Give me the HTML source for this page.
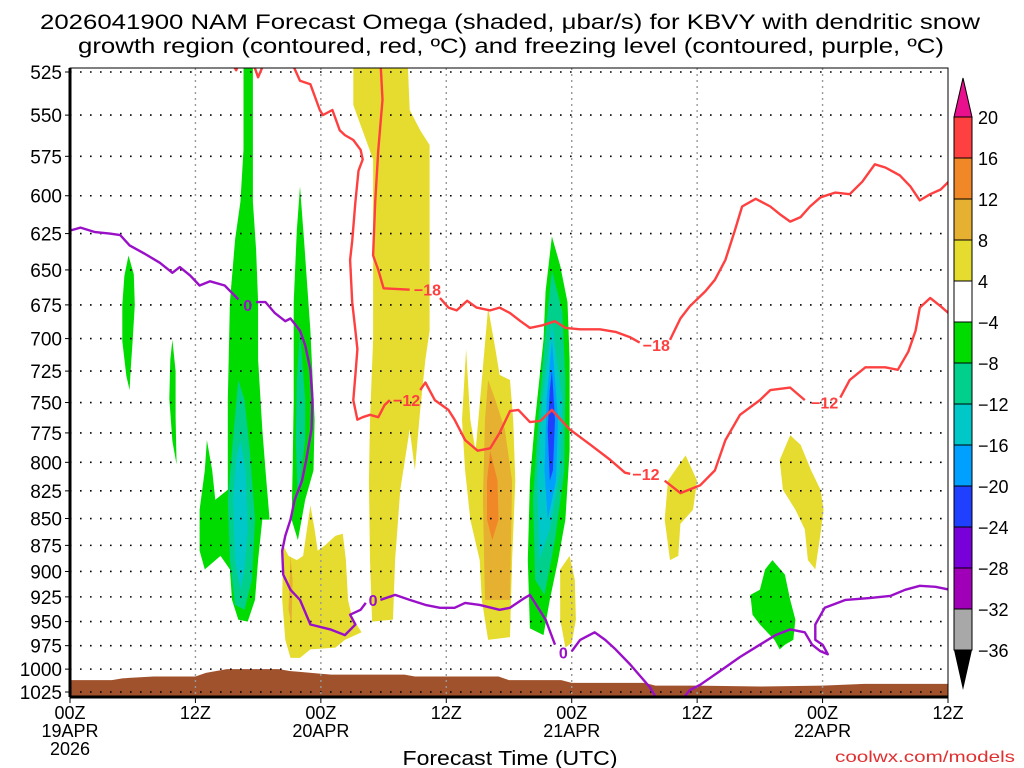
<!DOCTYPE html>
<html><head><meta charset="utf-8"><style>
html,body{margin:0;padding:0;background:#fff;}
svg{display:block;font-family:"Liberation Sans",sans-serif;}
</style></head><body>
<svg id="c" width="1024" height="768" viewBox="0 0 1024 768">
<text x="510" y="29" font-size="21" text-anchor="middle" textLength="940" lengthAdjust="spacingAndGlyphs" fill="#000">2026041900 NAM Forecast Omega (shaded, μbar/s) for KBVY with dendritic snow</text>
<text x="511" y="53" font-size="21" text-anchor="middle" textLength="866" lengthAdjust="spacingAndGlyphs" fill="#000">growth region (contoured, red, ºC) and freezing level (contoured, purple, ºC)</text>
<text x="510" y="765" font-size="20" text-anchor="middle" textLength="215" lengthAdjust="spacingAndGlyphs" fill="#000">Forecast Time (UTC)</text>
<text x="1015" y="762" font-size="16" text-anchor="end" textLength="180" lengthAdjust="spacingAndGlyphs" fill="#e03030">coolwx.com/models</text>
<defs><clipPath id="pc"><rect x="70" y="68" width="878" height="629"/></clipPath></defs>
<g id="shade" clip-path="url(#pc)"></g>
<g id="grid"></g>
<g id="lines" clip-path="url(#pc)"></g>
<g id="axes"></g>
<g id="cbar"></g>
</svg>
<script>
const NS="http://www.w3.org/2000/svg";
const pLevels=[525,550,575,600,625,650,675,700,725,750,775,800,825,850,875,900,925,950,975,1000,1025];
const xTickHours=[0,12,24,36,48,60,72,84];
const xTickLine1=["00Z","12Z","00Z","12Z","00Z","12Z","00Z","12Z"];
const xTickLine2=["19APR","","20APR","","21APR","","22APR",""];
const cbarLabels=["20","16","12","8","4","−4","−8","−12","−16","−20","−24","−28","−32","−36"];
const cbarColors=["#ff4040","#f08828","#e6b030","#e6dc30","#ffffff","#00dc00","#00d08c","#00c8c8","#00a0ff","#2040ff","#7800d8","#a000b8","#a8a8a8"];
// terrain surface pressure
const terrHours=[0,4,5,8,12,13,14,15,20,21,22,24,25,32,33,41,42,47,48,55,56,60,66,72,76,84];
const terrP=[1012,1012,1010,1008,1008,1004,1002,1000,1000,1002,1003,1005,1006,1006,1008,1008,1012,1012,1015,1015,1018,1018,1019,1018,1016,1016];
// shaded omega regions [hour, hPa]
const shadeGreen1=[[5.6,640],[6.1,653],[6.2,675],[6.0,701],[5.8,725],[5.7,740],[5.4,729],[5.0,702],[5.0,675],[5.2,654]];
const shadeGreen2=[[9.8,701],[10.1,725],[10.1,762],[10.2,802],[9.8,782],[9.5,747],[9.6,716]];
const shadeGreen3=[[16.6,518],[17.5,518],[17.5,604],[17.8,636],[18.0,673],[18.0,716],[18.4,772],[18.7,807],[19.1,851],[18.4,851],[18.0,889],[17.7,928],[17.0,950],[16.1,948],[15.5,928],[15.3,898],[14.4,885],[12.9,898],[12.4,880],[12.4,842],[12.9,807],[13.1,781],[13.6,807],[13.9,833],[15.1,824],[15.1,748],[15.3,673],[15.8,629],[16.3,604],[16.6,571]];
const shadeTeal3=[[16.1,732],[16.7,748],[17.2,790],[17.7,851],[17.4,908],[16.7,938],[15.8,933],[15.3,889],[15.1,833],[15.5,790]];
const shadeCyan3=[[16.3,781],[16.8,807],[17.0,860],[16.7,898],[16.3,918],[15.8,889],[15.6,833],[15.9,798]];
const shadeGreen4=[[22.0,594],[22.4,630],[23.0,694],[23.4,764],[23.3,807],[22.5,833],[21.8,870],[21.2,851],[21.3,807],[21.4,748],[21.4,673],[21.7,623]];
const shadeTeal4=[[22.0,694],[22.5,748],[22.5,781],[21.8,833],[21.6,781],[21.7,732]];
const shadeYellow5=[[27.1,518],[32.3,518],[32.5,547],[33.5,559],[34.4,568],[34.4,694],[34.0,716],[33.5,756],[33.0,807],[32.5,772],[31.6,824],[31.1,889],[30.9,948],[28.9,950],[28.7,889],[28.6,816],[28.7,764],[29.0,701],[29.0,636],[29.0,577],[27.8,556],[27.1,544]];
const shadeYellow6=[[20.4,875],[20.9,885],[21.7,889],[22.3,885],[23.0,838],[23.4,860],[23.7,880],[24.4,875],[25.4,866],[26.1,864],[26.4,889],[26.6,928],[27.0,946],[27.9,961],[27.3,964],[26.3,969],[25.4,977],[23.0,979],[22.0,988],[21.1,988],[20.6,969],[20.3,928]];
const shadeGold6=[[21.1,885],[21.3,908],[21.2,953],[20.9,938]];
const shadeYellow7=[[40.0,677],[40.7,708],[41.1,728],[42.1,732],[42.4,764],[42.6,816],[42.3,889],[42.1,966],[40.0,969],[39.4,928],[39.2,889],[38.3,851],[37.8,807],[37.5,764],[37.9,708],[38.3,764],[38.8,790],[39.4,732]];
const shadeGold7=[[40.0,732],[40.7,748],[41.6,772],[42.3,816],[42.1,928],[39.7,928],[39.5,833],[39.7,764]];
const shadeOrange7=[[40.2,790],[40.9,816],[41.0,851],[40.4,870],[39.9,851],[39.9,816]];
const shadeGreen8=[[46.1,627],[46.9,647],[47.6,673],[47.8,716],[47.8,790],[47.4,851],[46.7,889],[45.9,928],[45.3,964],[44.0,957],[43.8,889],[44.0,816],[44.5,764],[45.3,701],[45.5,665]];
const shadeTeal8=[[46.1,650],[47.1,680],[47.4,732],[47.3,807],[46.4,870],[45.4,923],[44.5,908],[44.3,833],[44.8,764],[45.5,694]];
const shadeCyan8=[[46.1,687],[47.1,748],[46.9,807],[45.9,860],[44.9,889],[44.7,816],[45.2,748]];
const shadeLblue8=[[46.1,701],[46.7,764],[46.5,816],[45.7,851],[45.4,807],[45.6,748]];
const shadeBlue8=[[46.1,724],[46.4,764],[46.2,807],[45.9,816],[45.7,772],[45.9,740]];
const shadeYellow9=[[47.8,885],[48.3,908],[48.4,948],[48.0,972],[47.4,977],[46.9,948],[46.9,898]];
const shadeYellow10=[[58.9,794],[60.0,816],[59.6,842],[58.4,855],[58.2,885],[57.4,889],[56.9,851],[57.2,816]];
const shadeYellow11=[[68.9,777],[69.9,785],[70.9,807],[71.8,824],[72.1,842],[71.8,864],[71.3,898],[70.6,889],[70.3,860],[69.4,842],[68.2,824],[67.9,798]];
const shadeGreen12=[[67.2,889],[68.4,903],[68.9,928],[69.4,948],[69.2,969],[68.4,974],[67.9,979],[67.4,969],[66.0,953],[65.3,943],[65.1,923],[66.0,918],[66.5,898]];
// contours [hour, hPa]
const red18a=[[29.7,518],[29.9,541],[29.5,571],[29.2,604],[29.0,640],[29.5,650],[30.0,663],[32.5,664]];
const red18b=[[35.4,670],[36.2,677],[37.0,679],[38.0,672],[38.9,677],[40.2,679],[41.1,677],[42.1,681],[43.1,687],[44.0,692],[45.2,690],[46.4,687],[47.4,692],[48.8,693],[50.7,693],[52.2,695],[53.6,699],[54.5,703]];
const red18c=[[57.4,701],[58.4,685],[59.3,676],[60.8,665],[61.7,657],[62.7,643],[63.6,623],[64.3,607],[65.6,602],[67.0,607],[67.9,612],[68.9,617],[69.9,614],[70.8,607],[71.8,601],[73.2,598],[74.6,599],[75.8,591],[77.0,580],[78.0,582],[79.4,587],[80.4,594],[81.3,603],[82.3,599],[83.3,596],[84.2,590]];
const red12a=[[21.1,518],[22.0,530],[23.0,532],[23.9,547],[24.2,550],[25.1,547],[25.8,559],[26.3,562],[27.1,565],[27.8,571],[28.0,577],[27.6,584],[27.3,604],[27.0,630],[26.8,643],[27.0,673],[27.3,694],[27.5,708],[27.3,728],[27.1,748],[27.5,764],[28.0,762],[28.7,760],[29.5,762],[30.1,752],[30.6,748]];
const red12b=[[33.5,740],[34.0,734],[34.9,748],[36.2,756],[36.8,764],[37.8,781],[39.0,790],[40.2,788],[41.1,775],[42.1,757],[42.9,756],[44.0,766],[45.0,765],[46.1,756],[47.8,772],[49.8,785],[51.7,798],[53.1,809],[53.6,810]];
const red12c=[[56.9,816],[58.4,827],[60.3,820],[61.7,807],[62.7,781],[64.1,760],[66.0,748],[67.0,740],[68.9,738],[70.3,748]];
const red12d=[[73.7,746],[74.6,732],[76.1,722],[78.0,722],[79.2,724],[80.2,710],[80.9,694],[81.3,677],[82.3,670],[83.3,676],[84.2,682]];
const red18t1=[[15.3,518],[15.9,524],[16.3,518]];
const red18t2=[[17.4,518],[18.0,528],[18.7,518]];
const purpleA=[[0,623],[1.0,621],[2.4,624],[3.8,625],[4.8,626],[5.7,633],[7.2,639],[8.6,645],[9.8,652],[10.5,648],[11.5,654],[12.4,661],[13.4,658],[14.8,661],[16.1,671]];
const purpleB=[[17.8,673],[18.7,673],[19.6,681],[20.6,687],[21.1,685],[22.0,694],[22.5,705],[23.0,724],[23.2,748],[23.1,772],[22.6,798],[22.2,816],[21.5,833],[21.1,851],[20.6,866],[20.3,880],[20.4,903],[21.1,918],[22.0,928],[23.0,953],[24.9,958],[26.3,964],[27.3,953],[26.8,943],[27.8,938],[28.3,931]];
const purpleC=[[29.7,928],[31.1,923],[32.5,928],[34.0,933],[35.4,936],[36.8,936],[37.8,931],[39.2,933],[41.1,938],[42.1,936],[43.5,926],[44.0,923],[45.5,948],[46.4,974]];
const purpleD=[[48.0,981],[48.8,969],[50.2,961],[51.2,969],[52.2,979],[53.6,995],[55.5,1020],[56,1030]];
const purpleE=[[58.8,1030],[59.3,1023],[60.3,1017],[62.2,1002],[64.1,987],[66.0,974],[67.5,964],[68.9,958],[70.3,961],[71.0,974],[71.8,981],[72.5,984],[72.0,974],[71.3,969],[71.3,953],[72.2,936],[74.2,928],[76.6,926],[78.5,924],[79.9,918],[81.3,914],[82.8,915],[84.2,918]];
const labels18=[[34.2,664],[56.1,705]];
const labels12=[[32.2,748],[55.1,810],[72.2,750]];
const labels0=[[17.0,675],[29.0,928],[47.2,982]];

const X0=70,X1=948,Y0=72,Y1=692,H=84;
const lnT=Math.log(525),lnB=Math.log(1025);
function xs(h){return X0+(X1-X0)*h/H;}
function ys(p){return Y0+(Y1-Y0)*(Math.log(p)-lnT)/(lnB-lnT);}
function mk(tag,attrs,parent){const e=document.createElementNS(NS,tag);for(const k in attrs)e.setAttribute(k,attrs[k]);parent.appendChild(e);return e;}
function pts(a){return a.map(d=>xs(d[0]).toFixed(1)+","+ys(d[1]).toFixed(1)).join(" ");}
const gS=document.getElementById('shade'),gG=document.getElementById('grid'),gL=document.getElementById('lines'),gA=document.getElementById('axes'),gC=document.getElementById('cbar');

{let d="M"+xs(terrHours[0])+","+ys(terrP[0]);for(let i=1;i<terrHours.length;i++)d+=" L"+xs(terrHours[i])+","+ys(terrP[i]);d+=" L"+xs(H)+",700 L"+xs(0)+",700 Z";
const t=mk('path',{d:d,fill:'#a0522d'},gS);

}

const shades=[[shadeGreen1,0],[shadeGreen2,0],[shadeGreen3,0],[shadeTeal3,1],[shadeCyan3,2],[shadeGreen4,0],[shadeTeal4,1],[shadeYellow5,3],[shadeYellow6,3],[shadeGold6,4],[shadeYellow7,3],[shadeGold7,4],[shadeOrange7,5],[shadeGreen8,0],[shadeTeal8,1],[shadeCyan8,2],[shadeLblue8,6],[shadeBlue8,7],[shadeYellow9,3],[shadeYellow10,3],[shadeYellow11,3],[shadeGreen12,0]];
const shadeCols=["#00dc00","#00d08c","#00c8c8","#e6dc30","#e6b030","#f08828","#00a0ff","#2040ff"];
shades.forEach(s=>{const e=mk('polygon',{points:pts(s[0]),fill:shadeCols[s[1]]},gS);

});

pLevels.forEach(p=>{const e=mk('line',{x1:X0,x2:X1,y1:ys(p),y2:ys(p),stroke:'#000','stroke-width':1.6,'stroke-dasharray':'1.6 8.4'},gG);

});
xTickHours.slice(1,-1).forEach(h=>{const e=mk('line',{x1:xs(h),x2:xs(h),y1:68,y2:697,stroke:'#999','stroke-width':1.4,'stroke-dasharray':'2 4'},gG);

});

function line(a,col,name){const e=mk('polyline',{points:pts(a),fill:'none',stroke:col,'stroke-width':2.4,'stroke-linejoin':'round'},gL);

}
[red18a,red18b,red18c,red18t1,red18t2].forEach(a=>line(a,'#ff4040','contour-minus18'));
[red12a,red12b,red12c,red12d].forEach(a=>line(a,'#ff4040','contour-minus12'));
[purpleA,purpleB,purpleC,purpleD,purpleE].forEach(a=>line(a,'#9a10c8','freezing-level'));
function lab(a,txt,col,name){a.forEach(d=>{const e=mk('text',{x:xs(d[0]),y:ys(d[1])+6,'font-size':16,'font-weight':'bold','text-anchor':'middle',fill:col},gL);e.textContent=txt;

});}
lab(labels18,'−18','#ff4040','contour-label');
lab(labels12,'−12','#ff4040','contour-label');
lab(labels0,'0','#9a10c8','contour-label');

mk('rect',{x:X0,y:68,width:X1-X0,height:629,fill:'none',stroke:'#000','stroke-width':1},gA);
mk('line',{x1:X0,x2:X1,y1:697,y2:697,stroke:'#000','stroke-width':3},gA);
mk('line',{x1:X0,x2:X0,y1:68,y2:697,stroke:'#000','stroke-width':3},gA);
pLevels.forEach(p=>{mk('line',{x1:X0-5,x2:X0,y1:ys(p),y2:ys(p),stroke:'#000','stroke-width':1},gA);
const t=mk('text',{x:X0-8,y:ys(p)+7,'font-size':19,'text-anchor':'end',fill:'#000'},gA);t.textContent=p;

});
xTickHours.forEach((h,i)=>{mk('line',{x1:xs(h),x2:xs(h),y1:697,y2:703,stroke:'#000','stroke-width':1},gA);
const t=mk('text',{x:xs(h),y:719,'font-size':18,'text-anchor':'middle',fill:'#000'},gA);t.textContent=xTickLine1[i];


if(xTickLine2[i]){const u=mk('text',{x:xs(h),y:737,'font-size':18,'text-anchor':'middle',fill:'#000'},gA);u.textContent=xTickLine2[i];

}});
{const t=mk('text',{x:xs(0),y:755,'font-size':18,'text-anchor':'middle',fill:'#000'},gA);t.textContent="2026";

}

const CB0=954,CB1=972,CT=117,CS=(650-117)/13;
{const e=mk('polygon',{points:`${CB0},${CT} ${CB1},${CT} ${(CB0+CB1)/2},78`,fill:'#e8108c',stroke:'#000','stroke-width':1},gC);

}
cbarColors.forEach((c,i)=>{const e=mk('rect',{x:CB0,y:CT+i*CS,width:CB1-CB0,height:CS,fill:c,stroke:'#000','stroke-width':1},gC);

});
{const e=mk('polygon',{points:`${CB0},650 ${CB1},650 ${(CB0+CB1)/2},690`,fill:'#000'},gC);

}
cbarLabels.forEach((l,i)=>{const t=mk('text',{x:978,y:CT+i*CS+7,'font-size':18,fill:'#000'},gC);t.textContent=l;

});
</script>
</body></html>
